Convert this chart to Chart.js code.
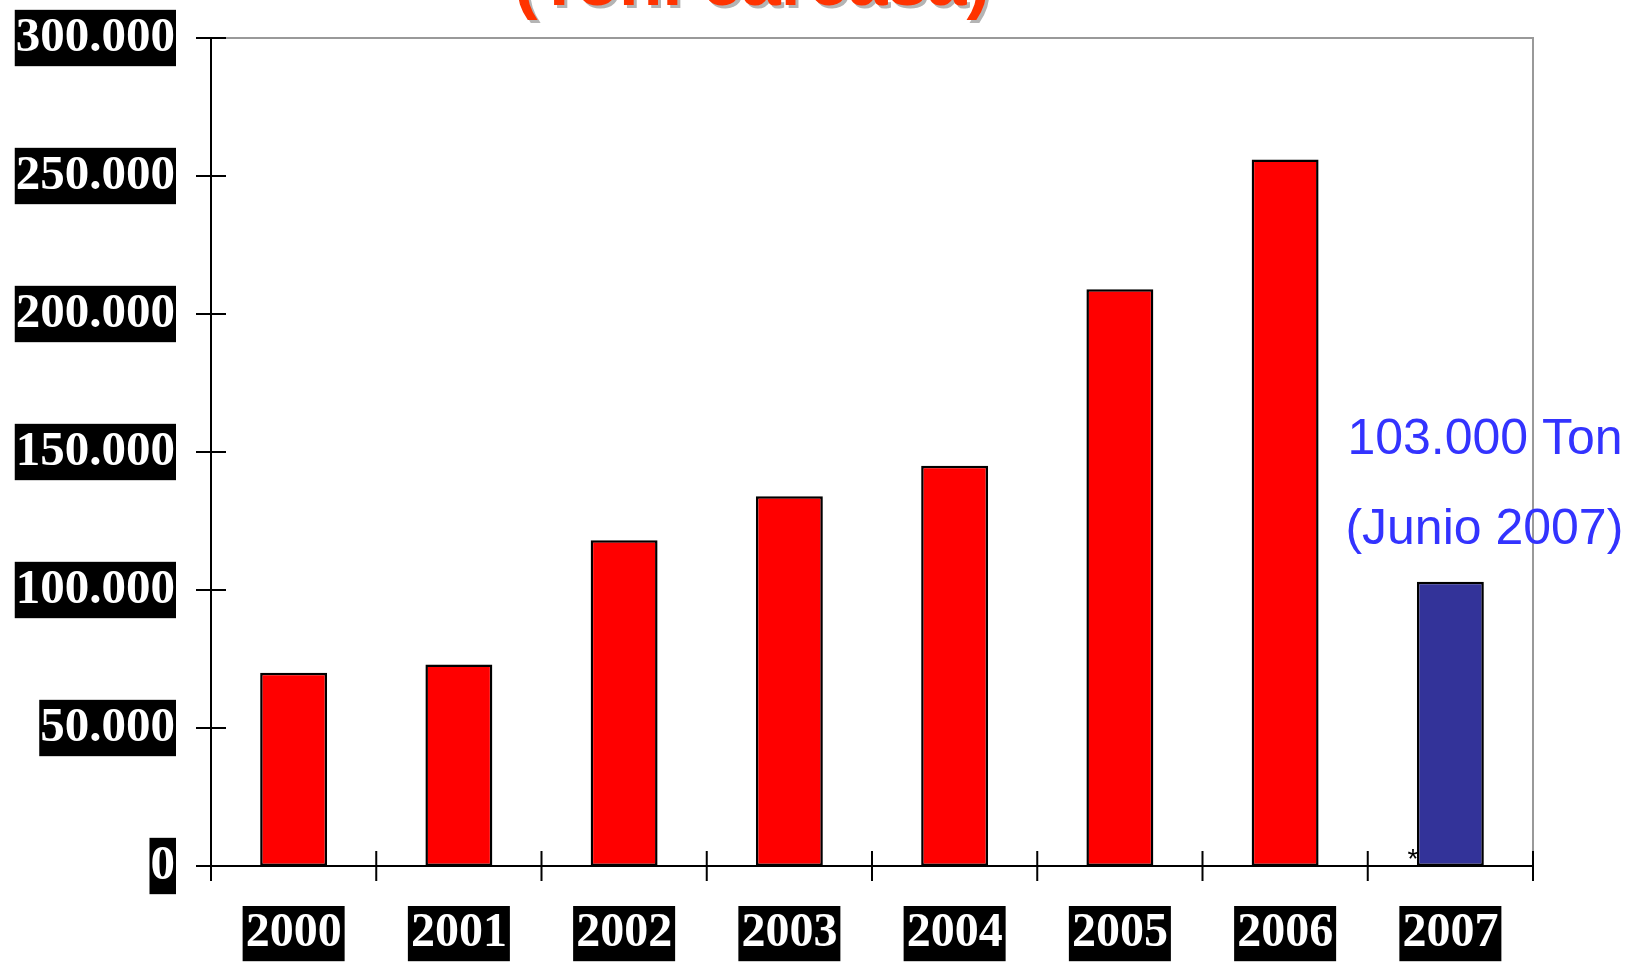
<!DOCTYPE html>
<html>
<head>
<meta charset="utf-8">
<script src="https://cdn.jsdelivr.net/npm/chart.js@4/dist/chart.umd.min.js"></script>
<style>
  html, body { margin: 0; padding: 0; background: #fff; }
  #wrap { width: 1630px; height: 962px; }
</style>
</head>
<body>
<div id="wrap"><canvas id="grafico"></canvas></div>
<script>
// dati
const anni = ['2000', '2001', '2002', '2003', '2004', '2005', '2006', '2007'];
const toneladas = [70000, 73000, 118000, 134000, 145000, 209000, 256000, 103000];
const coloriBarre = ['#ff0000', '#ff0000', '#ff0000', '#ff0000', '#ff0000', '#ff0000', '#ff0000', '#333399'];
const tickY = [0, 50000, 100000, 150000, 200000, 250000, 300000];
const titolo = '(Ton. carcasa)';
const notaRighe = ['103.000 Ton', '(Junio 2007)'];

const fontY = { family: '"Liberation Serif", "Times New Roman", serif', size: 49, weight: 'bold', lineHeight: 1.15 };
const fontX = { family: '"Liberation Serif", "Times New Roman", serif', size: 48, weight: 'bold', lineHeight: 1.15 };

function formatoMigliaia(v) {
  if (v === 0) return '0';
  return (v / 1000) + '.000';
}

// assi con tacche che attraversano la linea
const assiPlugin = {
  id: 'assi',
  afterDatasetsDraw(chart) {
    const { ctx, chartArea: a, scales: { x, y } } = chart;
    ctx.save();
    ctx.lineCap = 'butt';
    // bordo grigio sopra e a destra
    ctx.strokeStyle = '#999999';
    ctx.lineWidth = 2;
    ctx.beginPath();
    ctx.moveTo(a.left, a.top);
    ctx.lineTo(a.right, a.top);
    ctx.lineTo(a.right, a.bottom);
    ctx.stroke();

    ctx.strokeStyle = '#000';
    ctx.lineWidth = 2;
    ctx.beginPath();
    ctx.moveTo(a.left, a.top);
    ctx.lineTo(a.left, a.bottom);
    ctx.moveTo(a.left - 15, a.bottom);
    ctx.lineTo(a.right, a.bottom);
    // tacche asse y
    tickY.forEach(v => {
      const py = y.getPixelForValue(v);
      ctx.moveTo(a.left - 15, py);
      ctx.lineTo(a.left + 15, py);
    });
    // tacche asse x ai confini delle categorie
    const passo = x.getPixelForValue(1) - x.getPixelForValue(0);
    for (let i = 0; i <= anni.length; i++) {
      const px = x.getPixelForValue(0) - passo / 2 + i * passo;
      ctx.moveTo(px, a.bottom - 15);
      ctx.lineTo(px, a.bottom + 15);
    }
    ctx.stroke();
    ctx.restore();
  }
};

// titolo (tagliato in alto) e nota sul 2007
const testiPlugin = {
  id: 'testi',
  afterDraw(chart) {
    const { ctx, chartArea: a, scales: { x, y } } = chart;
    ctx.save();
    ctx.font = 'bold 71px "Liberation Sans", Arial, sans-serif';
    ctx.textAlign = 'center';
    ctx.textBaseline = 'alphabetic';
    ctx.fillStyle = '#b4b4b4';
    ctx.fillText(titolo, 755, 8);
    ctx.fillStyle = '#ff3300';
    ctx.fillText(titolo, 752, 5);

    const ultimo = anni.length - 1;
    const cx = x.getPixelForValue(ultimo);
    const cima = y.getPixelForValue(toneladas[ultimo]);
    ctx.font = '50px "Liberation Sans", Arial, sans-serif';
    ctx.textAlign = 'left';
    ctx.fillStyle = '#3333ff';
    ctx.fillText(notaRighe[0], cx - 103, cima - 128);
    ctx.fillText(notaRighe[1], cx - 105, cima - 38);

    ctx.font = '28px "Liberation Sans", Arial, sans-serif';
    ctx.textAlign = 'right';
    ctx.fillStyle = '#000';
    ctx.fillText('*', cx - 32, a.bottom + 2);
    ctx.restore();
  }
};

const ctx = document.getElementById('grafico').getContext('2d');
const grafico = new Chart(ctx, {
  type: 'bar',
  data: {
    labels: anni,
    datasets: [{
      data: toneladas,
      backgroundColor: coloriBarre,
      borderColor: '#000',
      borderWidth: 2.5,
      borderSkipped: false,
      barPercentage: 0.405,
      categoryPercentage: 1.0
    }]
  },
  options: {
    responsive: true,
    maintainAspectRatio: false,
    animation: false,
    layout: { padding: { top: 38, right: 97, left: 0, bottom: 0 } },
    plugins: { legend: { display: false }, tooltip: { enabled: false }, title: { display: false } },
    scales: {
      x: {
        grid: { display: false, drawTicks: false },
        border: { display: false },
        afterFit: s => { s.height = 96; s.paddingLeft = 0; s.paddingRight = 0; },
        ticks: {
          color: '#fff',
          font: fontX,
          padding: 40,
          maxRotation: 0,
          showLabelBackdrop: true,
          backdropColor: '#000',
          backdropPadding: { top: 0, bottom: 0, left: 3, right: 3 }
        }
      },
      y: {
        min: 0,
        max: 300000,
        afterBuildTicks: s => { s.ticks = tickY.map(v => ({ value: v })); },
        afterFit: s => { s.width = 211; s.paddingTop = 0; s.paddingBottom = 0; },
        grid: { display: false, drawTicks: false },
        border: { display: false },
        ticks: {
          color: '#fff',
          font: fontY,
          padding: 36,
          callback: v => formatoMigliaia(v),
          showLabelBackdrop: true,
          backdropColor: '#000',
          backdropPadding: { top: 0, bottom: 0, left: 1, right: 1 }
        }
      }
    }
  },
  plugins: [assiPlugin, testiPlugin]
});
</script>
</body>
</html>
